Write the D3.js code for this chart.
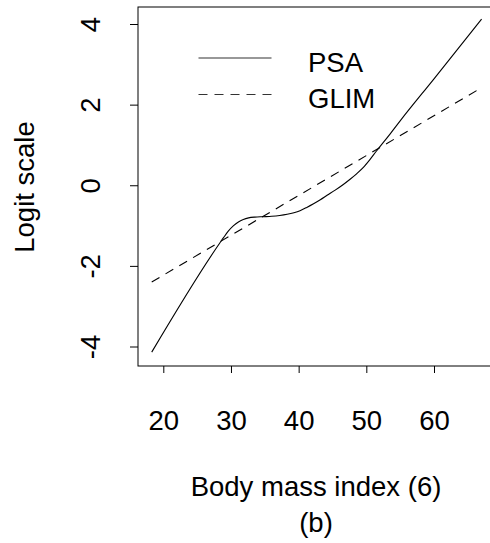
<!DOCTYPE html>
<html>
<head>
<meta charset="utf-8">
<script src="https://cdn.jsdelivr.net/npm/d3@7"></script>
<style>
  html, body { margin: 0; padding: 0; background: #fff; }
  svg { display: block; }
  text { font-family: "Liberation Sans", Arial, Helvetica, sans-serif; fill: #000; }
</style>
</head>
<body>
<svg id="chart" width="490" height="543"></svg>
<script>
// ---- data ----
const psaBmi   = [18.29, 28.4, 28.9, 29.6, 30.34, 31.1, 31.82, 32.6, 33.5, 34.8, 36.0, 37.2, 38.3, 39.3, 40.2, 41.2, 42.2, 43.2, 44.2, 45.4, 46.6, 47.6, 48.6, 49.6, 50.5, 51.5, 53.5, 55.2, 60.0, 67.03];
const psaLogit = [-4.14, -1.42, -1.30, -1.14, -1.01, -0.91, -0.85, -0.81, -0.79, -0.78, -0.77, -0.75, -0.72, -0.68, -0.63, -0.55, -0.46, -0.36, -0.25, -0.12, 0.02, 0.15, 0.29, 0.45, 0.63, 0.85, 1.27, 1.64, 2.64, 4.12];
const glimBmi   = [18.29, 67.03];
const glimLogit = [-2.40, 2.42];
const xTicks = [20, 30, 40, 50, 60];
const yTicks = [-4, -2, 0, 2, 4];
const seriesNames = ["PSA", "GLIM"];

// ---- layout ----
const svg = d3.select("#chart");
const box = { left: 138, top: 7, bottom: 366, right: 496 };
const x = d3.scaleLinear().domain([20, 60]).range([163.3, 434]);
const y = d3.scaleLinear().domain([-4, 4]).range([346.5, 24]);
const FS = 27.5;
const fmt = d => String(d);

// plot box
svg.append("rect")
  .attr("x", box.left).attr("y", box.top)
  .attr("width", box.right - box.left).attr("height", box.bottom - box.top)
  .attr("fill", "none").attr("stroke", "#000").attr("stroke-width", 1);

// x axis
const gx = svg.append("g").attr("transform", `translate(0,${box.bottom})`)
  .call(d3.axisBottom(x).tickValues(xTicks).tickSize(7).tickSizeOuter(0).tickFormat(fmt));
gx.select(".domain").remove();
gx.selectAll(".tick line").attr("stroke", "#000");
gx.selectAll(".tick text")
  .attr("y", 64).attr("dy", 0)
  .attr("font-size", FS).attr("font-family", "Liberation Sans, Arial, sans-serif")
  .attr("fill", "#000");

// y axis
const gy = svg.append("g").attr("transform", `translate(${box.left},0)`)
  .call(d3.axisLeft(y).tickValues(yTicks).tickSize(8).tickSizeOuter(0).tickFormat(fmt));
gy.select(".domain").remove();
gy.selectAll(".tick line").attr("stroke", "#000");
gy.selectAll(".tick text")
  .attr("x", 0).attr("y", -38).attr("dy", 0)
  .attr("transform", "rotate(-90)")
  .attr("text-anchor", "middle")
  .attr("font-size", FS).attr("font-family", "Liberation Sans, Arial, sans-serif")
  .attr("fill", "#000");

// axis titles
svg.append("text")
  .attr("transform", "translate(33.5,187) rotate(-90)")
  .attr("text-anchor", "middle").attr("font-size", FS)
  .text("Logit scale");
svg.append("text")
  .attr("x", 316).attr("y", 495.5)
  .attr("text-anchor", "middle").attr("font-size", FS)
  .text("Body mass index (6)");
svg.append("text")
  .attr("x", 316).attr("y", 531.5)
  .attr("text-anchor", "middle").attr("font-size", FS)
  .text("(b)");

// lines
const line = d3.line().x(d => x(d[0])).y(d => y(d[1])).curve(d3.curveMonotoneX);
const psa = psaBmi.map((b, i) => [b, psaLogit[i]]);
const glim = glimBmi.map((b, i) => [b, glimLogit[i]]);

svg.append("path").datum(psa)
  .attr("d", line).attr("fill", "none").attr("stroke", "#000").attr("stroke-width", 1.1);
svg.append("path").datum(glim)
  .attr("d", d3.line().x(d => x(d[0])).y(d => y(d[1])))
  .attr("fill", "none").attr("stroke", "#000").attr("stroke-width", 1.1)
  .attr("stroke-dasharray", "9,7");

// legend
const legY = [58, 94.5];
const legDash = [null, "9,7"];
seriesNames.forEach((name, i) => {
  svg.append("line")
    .attr("x1", 198.5).attr("x2", 271.5)
    .attr("y1", legY[i]).attr("y2", legY[i])
    .attr("stroke", "#333").attr("stroke-width", 1.2)
    .attr("stroke-dasharray", legDash[i]);
  svg.append("text")
    .attr("x", 308).attr("y", legY[i] + 13.5)
    .attr("font-size", FS)
    .text(name);
});
</script>
</body>
</html>
